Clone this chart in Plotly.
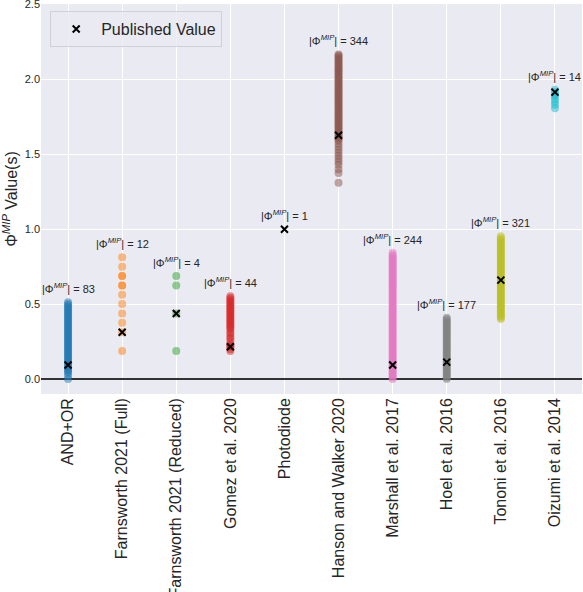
import plotly.graph_objects as go

categories = ["AND+OR", "Farnsworth 2021 (Full)", "Farnsworth 2021 (Reduced)",
              "Gomez et al. 2020", "Photodiode", "Hanson and Walker 2020",
              "Marshall et al. 2017", "Hoel et al. 2016", "Tononi et al. 2016",
              "Oizumi et al. 2014"]
counts = [83, 12, 4, 44, 1, 344, 244, 177, 321, 14]
published = [0.093, 0.3125, 0.4375, 0.215, 1.0, 1.627, 0.093, 0.113, 0.66, 1.915]
colors = ["#1f77b4", "#ff7f0e", "#2ca02c", "#d62728", "#9467bd",
          "#8c564b", "#e377c2", "#7f7f7f", "#bcbd22", "#17becf"]

and_or = [0.0, 0.02, 0.04, 0.05, 0.06, 0.07, 0.08, 0.09, 0.1, 0.11, 0.12, 0.13,
          0.14, 0.15, 0.16, 0.17, 0.18, 0.19, 0.2, 0.21, 0.22, 0.23, 0.24, 0.25,
          0.26, 0.27, 0.28, 0.29, 0.3, 0.31, 0.32, 0.33, 0.34, 0.35, 0.36, 0.37,
          0.38, 0.39, 0.4, 0.41, 0.42, 0.43, 0.44, 0.45, 0.46, 0.47, 0.48, 0.49,
          0.5, 0.513]
farn_full = [0.1875, 0.3125, 0.375, 0.4375, 0.5, 0.5625, 0.625, 0.625, 0.6875,
             0.6875, 0.75, 0.8125]
farn_red = [0.1875, 0.4375, 0.625, 0.6875]
gomez = [0.187, 0.2, 0.215, 0.22, 0.23, 0.25, 0.27, 0.28, 0.3, 0.31, 0.33, 0.34,
         0.35, 0.36, 0.37, 0.38, 0.39, 0.4, 0.41, 0.42, 0.43, 0.44, 0.45, 0.46,
         0.47, 0.48, 0.49, 0.5, 0.51, 0.52, 0.53, 0.54, 0.553]
photodiode = []
hanson = [1.31, 1.375, 1.40, 1.43, 1.45, 1.47, 1.49, 1.51, 1.53, 1.55, 1.57, 1.59,
          1.60, 1.61, 1.62, 1.63, 1.64, 1.65, 1.66, 1.67, 1.68, 1.69, 1.70, 1.71,
          1.72, 1.73, 1.74, 1.75, 1.76, 1.77, 1.78, 1.79, 1.80, 1.81, 1.82, 1.83,
          1.84, 1.85, 1.86, 1.87, 1.88, 1.89, 1.90, 1.91, 1.92, 1.93, 1.94, 1.95,
          1.96, 1.97, 1.98, 1.99, 2.00, 2.01, 2.02, 2.03, 2.04, 2.05, 2.06, 2.07,
          2.08, 2.09, 2.10, 2.11, 2.12, 2.13, 2.14, 2.15, 2.16, 2.166]
marshall = [0.0, 0.01, 0.02, 0.03, 0.04, 0.05, 0.06, 0.07, 0.08, 0.09, 0.1, 0.11,
            0.12, 0.13, 0.14, 0.15, 0.16, 0.17, 0.18, 0.19, 0.2, 0.21, 0.22, 0.23,
            0.24, 0.25, 0.26, 0.27, 0.28, 0.29, 0.3, 0.31, 0.32, 0.33, 0.34, 0.35,
            0.36, 0.37, 0.38, 0.39, 0.4, 0.41, 0.42, 0.43, 0.44, 0.45, 0.46, 0.47,
            0.48, 0.49, 0.5, 0.51, 0.52, 0.53, 0.54, 0.55, 0.56, 0.57, 0.58, 0.59,
            0.6, 0.61, 0.62, 0.63, 0.64, 0.65, 0.66, 0.67, 0.68, 0.69, 0.7, 0.71,
            0.72, 0.73, 0.74, 0.75, 0.76, 0.77, 0.78, 0.79, 0.8, 0.81, 0.82, 0.83,
            0.842]
hoel = [0.0, 0.01, 0.02, 0.03, 0.04, 0.05, 0.06, 0.07, 0.08, 0.09, 0.1, 0.11, 0.12,
        0.13, 0.14, 0.15, 0.16, 0.17, 0.18, 0.19, 0.2, 0.21, 0.22, 0.23, 0.24, 0.25,
        0.26, 0.27, 0.28, 0.29, 0.3, 0.31, 0.32, 0.33, 0.34, 0.35, 0.36, 0.37, 0.38,
        0.39, 0.4, 0.409]
tononi = [0.4, 0.41, 0.42, 0.43, 0.44, 0.45, 0.46, 0.47, 0.48, 0.49, 0.5, 0.51,
          0.52, 0.53, 0.54, 0.55, 0.56, 0.57, 0.58, 0.59, 0.6, 0.61, 0.62, 0.63,
          0.64, 0.65, 0.66, 0.67, 0.68, 0.69, 0.7, 0.71, 0.72, 0.73, 0.74, 0.75,
          0.76, 0.77, 0.78, 0.79, 0.8, 0.81, 0.82, 0.83, 0.84, 0.85, 0.86, 0.87,
          0.88, 0.89, 0.9, 0.91, 0.92, 0.93, 0.94, 0.953]
oizumi = [1.807, 1.83, 1.85, 1.87, 1.89, 1.9, 1.915, 1.93]

series = [and_or, farn_full, farn_red, gomez, photodiode, hanson, marshall, hoel,
          tononi, oizumi]

FONT = "Liberation Sans, Arial, sans-serif"
TXT = "#262626"

fig = go.Figure()
for i, vals in enumerate(series):
    if not vals:
        continue
    fig.add_trace(go.Scatter(
        x=[i] * len(vals), y=vals, mode="markers",
        marker=dict(color=colors[i], size=8, opacity=0.5, line=dict(width=0)),
        showlegend=False, hoverinfo="y"))

fig.add_trace(go.Scatter(
    x=list(range(len(categories))), y=published, mode="markers",
    name="Published Value",
    marker=dict(symbol="x-thin-open", size=7, color="black",
                line=dict(width=2, color="black"))))

for i, vals in enumerate(series):
    top = max(vals + [published[i]])
    fig.add_annotation(
        x=i, y=top + 0.095, xref="x", yref="y",
        text="|Φ<sup><i>MIP</i></sup>| = %d" % counts[i],
        showarrow=False, yanchor="middle", xanchor="center",
        font=dict(family=FONT, size=11, color=TXT))

fig.update_layout(
    width=583, height=592,
    margin=dict(l=41, r=1, t=4, b=198),
    paper_bgcolor="white", plot_bgcolor="#eaeaf2",
    font=dict(family=FONT, color=TXT),
    showlegend=True,
    legend=dict(x=0.017, y=0.982, xanchor="left", yanchor="top",
                itemwidth=40,
                bgcolor="rgba(234,234,242,0.8)", bordercolor="#d0d0d8",
                borderwidth=1, font=dict(family=FONT, size=16, color=TXT)),
    xaxis=dict(range=[-0.5, 9.5], tickvals=list(range(len(categories))),
               ticktext=categories, tickangle=-90, showgrid=True,
               gridcolor="white", gridwidth=1, zeroline=False, automargin=False,
               tickfont=dict(family=FONT, size=16, color=TXT), ticks=""),
    yaxis=dict(range=[-0.1, 2.503], tickvals=[0, 0.5, 1.0, 1.5, 2.0, 2.5],
               ticktext=["0.0", "0.5", "1.0", "1.5", "2.0", "2.5"],
               ticklabeloverflow="allow",
               showgrid=True, gridcolor="white", gridwidth=1, automargin=False,
               zeroline=True, zerolinecolor="#333333", zerolinewidth=1.5,
               tickfont=dict(family=FONT, size=11, color=TXT), ticks="",
               title=dict(text="Φ<sup><i>MIP</i></sup> Value(s)",
                          font=dict(family=FONT, size=16, color=TXT),
                          standoff=4)),
)

fig.write_html("out.html", config={"displayModeBar": False},
               post_script="document.body.style.margin='0';")
